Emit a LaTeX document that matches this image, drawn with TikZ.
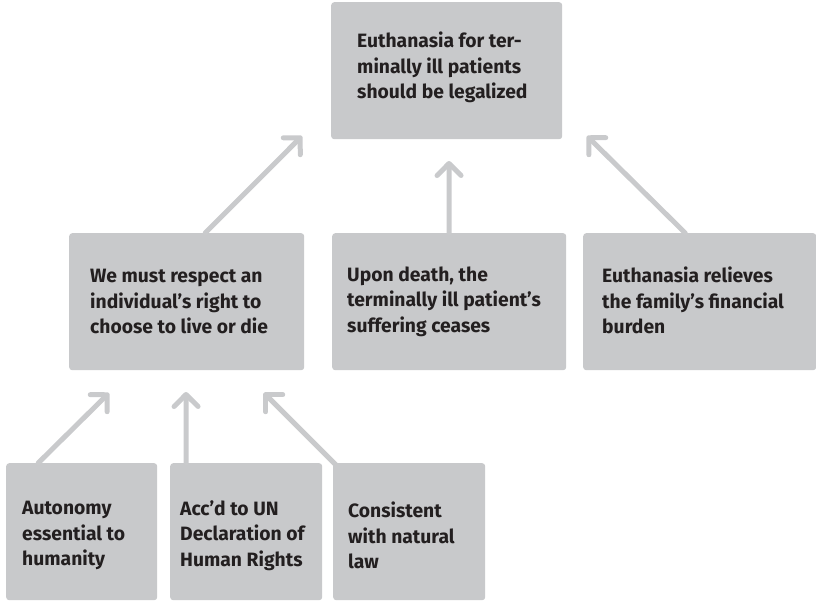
\documentclass[tikz,border=0pt]{standalone}
\usepackage{fontspec}
\setmainfont{Fira Sans}
\usetikzlibrary{arrows.meta}
\definecolor{boxgray}{HTML}{C8C9CB}
\definecolor{arrowgray}{HTML}{C9CACC}
\definecolor{inkdark}{HTML}{231F20}
\tikzset{
  claimbox/.style n args={2}{fill=boxgray, rounded corners=3pt, inner sep=0pt,
    anchor=north west, minimum width=#1, minimum height=#2},
  claimtext/.style={anchor=west, align=left, inner sep=0pt, text=inkdark,
    font=\bfseries\fontsize{19.3pt}{25.5pt}\selectfont},
  support/.style={draw=arrowgray, line width=5pt, line cap=round,
    -{Straight Barb[length=12pt,width=24pt,round]}}
}
\begin{document}
\begin{tikzpicture}[x=1pt,y=-1pt]
\useasboundingbox (0,0) rectangle (816,600);

% arrow tips
\coordinate (tipA) at (302,136);
\coordinate (tipB) at (449,161);
\coordinate (tipC) at (587,136);
\coordinate (tipD) at (109,393);
\coordinate (tipE) at (186,392);
\coordinate (tipF) at (264,393);

% boxes
\node[claimbox={231pt}{137pt}] (top) at (331,2) {};
\node[claimbox={235pt}{137pt}] (left) at (69,233) {};
\node[claimbox={234pt}{137pt}] (mid) at (332,233) {};
\node[claimbox={233pt}{137pt}] (right) at (583,233) {};
\node[claimbox={151pt}{137pt}] (b1) at (6,463) {};
\node[claimbox={152pt}{137pt}] (b2) at (170,463) {};

% connectors
\draw[support] ([xshift=18.5pt]left.north) -- (tipA);
\draw[support] (mid.north) -- (tipB);
\draw[support] ([xshift=-14.5pt]right.north) -- (tipC);
\draw[support] ([xshift=-43.5pt]b1.north) -- (tipD);
\draw[support] ([xshift=-60pt]b2.north) -- (tipE);
\coordinate (startF) at (337,466);
\draw[support] (startF) -- (tipF);
% third bottom box lies over the foot of its connector
\node[claimbox={152pt}{137pt}] (b3) at (333,463) {};

% texts
\node[claimtext] (ttop) at ([xshift=26pt,yshift=3pt]top.west) {Euthanasia for ter-\\minally ill patients\\should be legalized};
\node[claimtext] (tleft) at ([xshift=21pt]left.west) {We must respect an\\individual’s right to\\choose to live or die};
\node[claimtext] (tmid) at ([xshift=15pt]mid.west) {Upon death, the\\terminally ill patient’s\\suffering ceases};
\node[claimtext] (tright) at ([xshift=19pt,yshift=1pt]right.west) {Euthanasia relieves\\the family’s financial\\burden};
\node[claimtext] (tb1) at ([xshift=16pt,yshift=-4pt]b1.west) {Autonomy\\essential to\\humanity};
\node[claimtext] (tb2) at ([xshift=10pt,yshift=-4pt]b2.west) {Acc’d to UN\\Declaration of\\Human Rights};
\node[claimtext] (tb3) at ([xshift=15pt,yshift=-4pt]b3.west) {Consistent\\with natural\\law};
\end{tikzpicture}
\end{document}
